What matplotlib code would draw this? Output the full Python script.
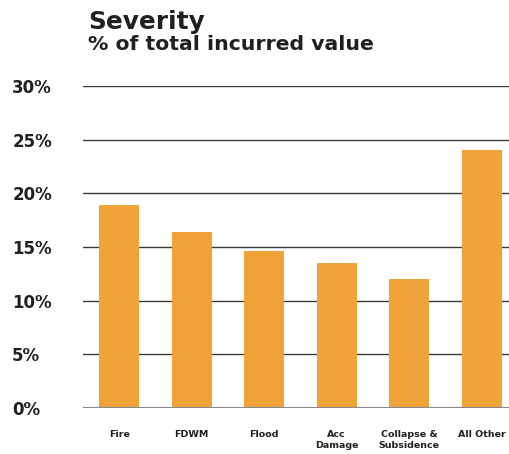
import matplotlib
matplotlib.use("Agg")
import matplotlib.pyplot as plt

categories = ["Fire", "FDWM", "Flood", "Acc\nDamage", "Collapse &\nSubsidence", "All Other"]
values = [18.9, 16.4, 14.6, 13.5, 12.0, 24.0]
yticks = [0, 5, 10, 15, 20, 25, 30]
ytick_labels = ["0%", "5%", "10%", "15%", "20%", "25%", "30%"]

plt.rcParams['font.family'] = ['DejaVu Sans']
txt = '#231f20'
bar_color = '#F0A338'

fig = plt.figure(figsize=(5.10, 4.54), dpi=100)
ax = fig.add_axes([83/510, 1 - 408/454, 1 - 83/510, (408 - 86)/454])

x = list(range(len(categories)))
ax.bar(x, values, width=0.55, color=bar_color, zorder=3)

ax.set_ylim(0, 30)
ax.set_xlim(-0.5, 5.39)
ax.set_yticks(yticks)
ax.set_yticklabels(ytick_labels, fontsize=12, fontweight='bold', color=txt)
for lab in ax.get_yticklabels():
    lab.set_horizontalalignment('left')
ax.tick_params(axis='y', length=0, pad=51)
ax.set_xticks(x)
ax.set_xticklabels(categories, fontsize=6.8, fontweight='bold', color=txt, linespacing=1.35)
ax.tick_params(axis='x', length=0, pad=15.5)

for y in yticks[1:]:
    ax.axhline(y, color='#3a3a3a', lw=1.0, zorder=1)
ax.axhline(0, color='#8a8a8a', lw=1.6, zorder=4)

for s in ax.spines.values():
    s.set_visible(False)

fig.text(88/510, 1 - 29/454, "Severity", fontsize=17.8, fontweight='bold', color=txt, va='baseline', ha='left')
fig.text(88/510, 1 - 50/454, "% of total incurred value", fontsize=14.7, fontweight='bold', color=txt, va='baseline', ha='left')

fig.savefig("out.png", dpi=100)
